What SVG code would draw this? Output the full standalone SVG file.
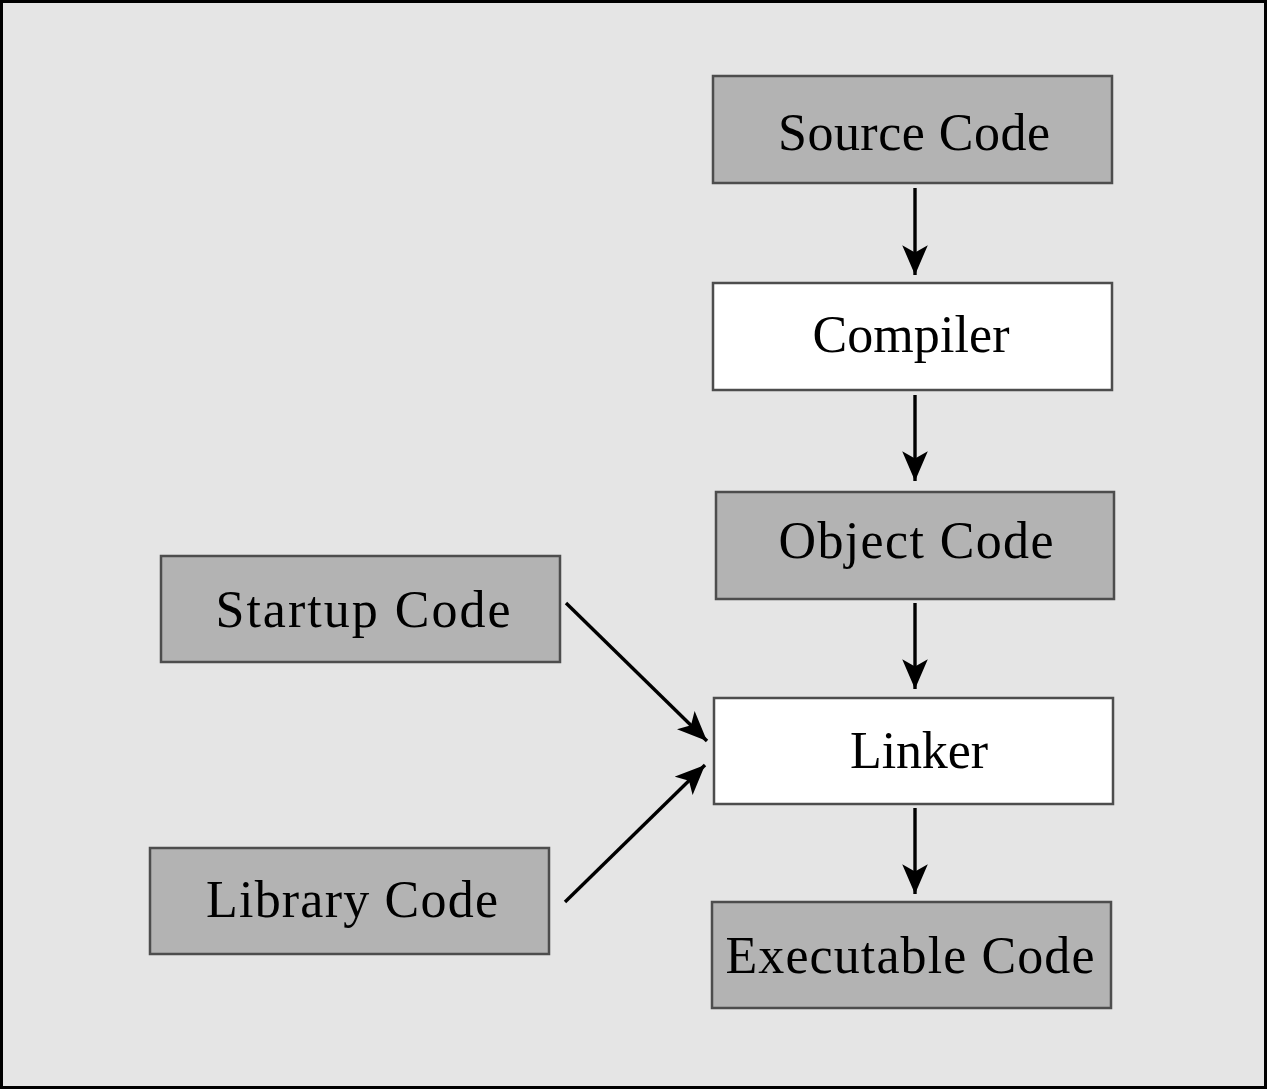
<svg xmlns="http://www.w3.org/2000/svg" width="1267" height="1089" viewBox="0 0 1267 1089">
<style>
.box{stroke:#4d4d4d;stroke-width:2.5}
.g{fill:#b3b3b3}
.w{fill:#ffffff}
.t{font-family:"Liberation Serif","DejaVu Serif",serif;font-size:52px;fill:#000;text-anchor:middle}
.c{stroke:#000;stroke-width:3.4;fill:none;marker-end:url(#ah)}
</style>
<defs>
<marker id="ah" markerUnits="userSpaceOnUse" markerWidth="32" markerHeight="26" refX="28" refY="12" orient="auto" viewBox="0 0 30 24">
<path d="M0,0 L28,12 L0,24 L7,12 Z" fill="#000"/>
</marker>
</defs>
<rect x="1.5" y="1.5" width="1264" height="1086" fill="#e5e5e5" stroke="#000" stroke-width="3"/>
<g id="source"><rect class="box g" x="713" y="76" width="399" height="107"/><text class="t" x="914" y="150" textLength="272" lengthAdjust="spacing">Source Code</text></g>
<g id="compiler"><rect class="box w" x="713" y="283" width="399" height="107"/><text class="t" x="911" y="352" textLength="197" lengthAdjust="spacing">Compiler</text></g>
<g id="object"><rect class="box g" x="716" y="492" width="398" height="107"/><text class="t" x="916" y="558" textLength="275" lengthAdjust="spacing">Object Code</text></g>
<g id="startup"><rect class="box g" x="161" y="556" width="399" height="106"/><text class="t" x="363" y="627" textLength="295" lengthAdjust="spacing">Startup Code</text></g>
<g id="linker"><rect class="box w" x="714" y="698" width="399" height="106"/><text class="t" x="919" y="768" textLength="138" lengthAdjust="spacing">Linker</text></g>
<g id="library"><rect class="box g" x="150" y="848" width="399" height="106"/><text class="t" x="352" y="917" textLength="292" lengthAdjust="spacing">Library Code</text></g>
<g id="executable"><rect class="box g" x="712" y="902" width="399" height="106"/><text class="t" x="910" y="973" textLength="369" lengthAdjust="spacing">Executable Code</text></g>
<g id="connectors">
<line class="c" x1="915" y1="188" x2="915" y2="275"/>
<line class="c" x1="915" y1="395" x2="915" y2="481"/>
<line class="c" x1="915" y1="603" x2="915" y2="689"/>
<line class="c" x1="915" y1="808" x2="915" y2="894"/>
<line class="c" x1="566" y1="603" x2="707" y2="741"/>
<line class="c" x1="565" y1="902" x2="705" y2="765"/>
</g>
</svg>
